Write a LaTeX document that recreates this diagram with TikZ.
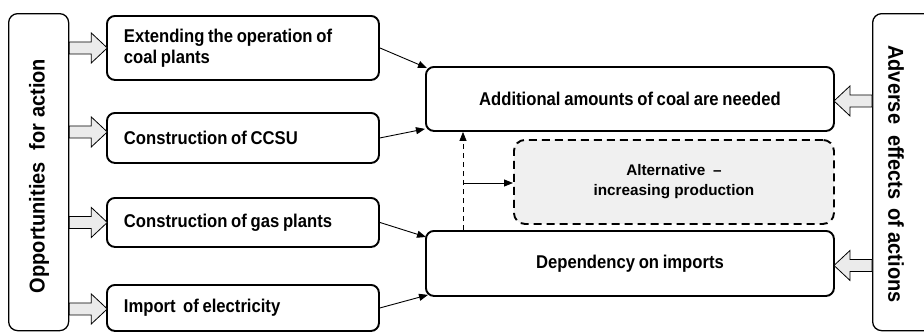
\documentclass[tikz,border=0pt]{standalone}
\usepackage{fontspec}
\setmainfont{Liberation Sans}
\newfontfamily\condfont[FakeStretch=0.9]{Liberation Sans}
\newfontfamily\vcondfont[FakeStretch=0.93]{Liberation Sans}
\newcommand\tightwords{\spaceskip=0.2em plus 0.1em\relax}
\usetikzlibrary{arrows.meta,calc}
\begin{document}
\begin{tikzpicture}[x=1pt,y=-1pt,
  lbox/.style={draw, line width=1.9pt, rounded corners=8pt, align=left, text width=238pt,
    inner xsep=17pt, inner ysep=0pt, minimum width=272pt, anchor=north west,
    font=\condfont\fontsize{18.5}{21}\selectfont\bfseries},
  rbox/.style={draw, line width=1.9pt, rounded corners=8pt, align=center, minimum width=408pt,
    anchor=north west, inner sep=0pt, font=\condfont\fontsize{18.5}{21}\selectfont\bfseries},
  dbox/.style={draw, line width=1.9pt, dash pattern=on 8pt off 5pt, rounded corners=11pt,
    fill=black!6, align=center, minimum width=320pt, minimum height=84pt, anchor=north west,
    inner sep=0pt, font=\fontsize{15.3}{20}\selectfont\bfseries},
  tallbox/.style={draw, line width=1.3pt, rounded corners=9pt, anchor=north west, inner sep=0pt},
  vtext/.style={font=\vcondfont\fontsize{21.5}{24}\selectfont\bfseries, inner sep=0pt},
  tarrow/.style={line width=0.9pt, -{Triangle[length=9pt,width=7pt]}},
  barrow/.pic={\draw[line width=0.8pt, fill=black!8] (0,-6) -- (22,-6) -- (22,-15) -- (38,0) -- (22,15) -- (22,6) -- (0,6) -- cycle;}
]
\useasboundingbox (0,0) rectangle (924,332);
\clip (0,0) rectangle (924,332);

% tall side boxes
\node[tallbox, minimum width=60pt, minimum height=317pt] (L) at (8,13) {};
\node[vtext, rotate=90] (Lt) at (39,176) {Opportunities\hspace{0.3em} for action};
\node[tallbox, minimum width=80pt, minimum height=317pt] (R) at (872,13) {};
\node[vtext, rotate=-90] (Rt) at (896,174) {Adverse\hspace{0.25em} effects\hspace{0.15em} of actions};

% left boxes
\node[lbox, minimum height=64pt] (B1) at (106,15) {\tightwords Extending the operation of\\coal plants};
\node[lbox, minimum height=50pt] (B2) at (106,112) {\tightwords Construction of CCSU};
\node[lbox, minimum height=49pt] (B3) at (106,197) {\tightwords Construction of gas plants};
\node[lbox, minimum height=46pt] (B4) at (106,284) {\tightwords Import\hspace{0.2em} of electricity};

% right boxes
\node[rbox, minimum height=64pt] (C) at (425,66) {\tightwords Additional amounts of coal are needed};
\node[rbox, minimum height=65pt] (D) at (425,230) {\tightwords Dependency on imports};
\node[dbox] (A) at (513,139) {Alternative\enspace–\\increasing production};

% block arrows
\pic at (L.east |- B1.west) {barrow};
\pic at ($(L.east |- B2.west)+(0,-6)$) {barrow};
\pic at (L.east |- B3.west) {barrow};
\pic at ($(L.east |- B4.west)+(0,1)$) {barrow};
\pic[rotate=180] at ($(R.west |- C.east)+(0,2)$) {barrow};
\pic[rotate=180] at ($(R.west |- D.east)+(0,2)$) {barrow};

% thin arrows
\draw[tarrow] (B1.east) -- ($(C.north west)+(2,2)$);
\draw[tarrow] (B2.east) -- ($(C.south west)+(0,-3)$);
\draw[tarrow] (B3.east) -- ($(D.north west)+(1,7)$);
\draw[tarrow] (B4.east) -- ($(D.south west)+(3,-2)$);

% dashed link
\coordinate (v) at (463,183);
\draw[line width=0.8pt, dash pattern=on 5pt off 4pt, -{Triangle[length=9pt,width=7pt]}] (v |- D.north) -- (v |- C.south);
\draw[tarrow] (v) -- (v -| A.west);
\end{tikzpicture}
\end{document}
